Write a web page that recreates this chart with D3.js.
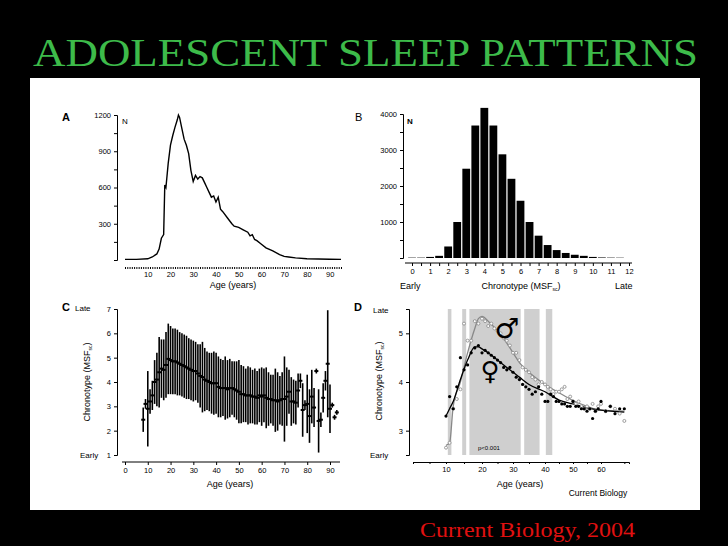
<!DOCTYPE html>
<html>
<head>
<script src="https://cdn.jsdelivr.net/npm/d3@7"></script>
<style>body{margin:0;background:#000}</style>
</head>
<body>
<svg width="728" height="546" id="mainsvg" style="display:block"></svg>
<script>
// ---- data ----
const aAge = [0, 5, 10, 12, 14, 15, 16, 17, 17.5, 18, 19, 20, 21, 22, 23, 23.5, 24, 25, 26, 27, 28, 29, 30, 31, 32, 33, 34, 35, 36, 37, 38, 39, 40, 41, 42, 43, 45, 47, 48, 50, 52, 54, 55, 56, 57, 58, 60, 62, 65, 68, 70, 72, 75, 80, 85, 90, 95];
const aN   = [5, 5, 10, 25, 50, 90, 180, 210, 620, 600, 800, 950, 1030, 1100, 1160, 1200, 1180, 1090, 1000, 950, 880, 740, 650, 700, 670, 690, 680, 640, 600, 560, 520, 530, 480, 520, 420, 400, 350, 300, 280, 270, 250, 230, 200, 210, 170, 160, 130, 100, 75, 45, 30, 25, 18, 10, 8, 6, 5];

const bMid = [0, 0.5, 1, 1.5, 2, 2.5, 3, 3.5, 4, 4.5, 5, 5.5, 6, 6.5, 7, 7.5, 8, 8.5, 9, 9.5, 10, 10.5, 11, 11.5];
const bN   = [10, 10, 30, 60, 320, 1000, 2480, 3680, 4170, 3680, 2880, 2200, 1590, 1000, 620, 360, 220, 140, 90, 60, 30, 15, 10, 8];

const cAge  = d3.range(8, 94);
const cMean = [2.45, 3.1, 2.9, 3.2, 3.45, 4.0, 4.1, 4.4, 4.55, 4.5, 4.7, 4.95, 4.9, 4.85, 4.85, 4.8, 4.75, 4.7, 4.65, 4.6, 4.55, 4.5, 4.45, 4.45, 4.35, 4.25, 4.2, 4.1, 4.05, 4.0, 3.95, 3.95, 3.95, 3.8, 3.75, 3.75, 3.75, 3.7, 3.75, 3.75, 3.7, 3.65, 3.6, 3.5, 3.5, 3.45, 3.45, 3.45, 3.4, 3.4, 3.35, 3.45, 3.4, 3.45, 3.35, 3.3, 3.3, 3.25, 3.25, 3.2, 3.25, 3.3, 3.3, 3.4, 3.6, 3.2, 3.2, 3.15, 3.65, 4.05, 2.85, 3.05, 3.1, 2.6, 3.4, 2.95, 4.45, 2.4, 2.45, 3.35, 4.05, 4.75, 2.9, 3.05, 2.55, 2.75];
const cSd   = [0.5, 0.2, 1.55, 0.5, 0.6, 0.9, 1.1, 1.45, 1.2, 1.25, 1.35, 1.45, 1.4, 1.35, 1.35, 1.35, 1.3, 1.3, 1.3, 1.3, 1.25, 1.25, 1.25, 1.2, 1.2, 1.3, 1.45, 1.3, 1.2, 1.2, 1.25, 1.3, 1.25, 1.25, 1.2, 1.15, 1.3, 1.2, 1.2, 1.1, 1.15, 1.2, 1.3, 1.2, 1.15, 1.1, 1.2, 1.15, 1.1, 1.15, 1.1, 1.1, 1.2, 1.1, 1.25, 1.1, 1.0, 1.05, 1.3, 1.2, 1.0, 1.1, 1.75, 1.2, 0.9, 1.0, 0.9, 0.9, 0.7, 0.3, 1.1, 0.2, 1.2, 1.1, 1.1, 0.8, 0.1, 1.3, 0.3, 0.6, 0.4, 2.2, 1.0, 0.1, 0.1, 0.1];

const dFitAge = [10, 11, 12, 14, 16, 18, 19, 20, 22, 25, 28, 30, 32, 35, 40, 45, 50, 55, 60, 65];
const dMaleFit   = [2.7, 2.75, 3.5, 4.0, 4.6, 5.1, 5.3, 5.35, 5.25, 5.05, 4.8, 4.6, 4.4, 4.2, 3.95, 3.78, 3.62, 3.5, 3.42, 3.4];
const dFemaleFit = [3.3, 3.45, 3.6, 4.05, 4.45, 4.72, 4.72, 4.68, 4.6, 4.45, 4.3, 4.2, 4.1, 3.95, 3.8, 3.63, 3.55, 3.47, 3.42, 3.38];
const dPtAge = d3.range(10, 66);
const dMale   = [2.65, 2.75, 3.45, 3.65, 3.85, 5.2, 4.85, 4.85, 5.25, 5.2, 5.3, 5.25, 5.15, 5.2, 5.1, 5.05, 5.0, 4.9, 4.85, 4.75, 4.6, 4.6, 4.45, 4.3, 4.25, 4.2, 4.1, 4.05, 3.95, 4.0, 3.95, 3.9, 3.85, 3.75, 3.8, 3.8, 3.85, 3.9, 3.65, 3.7, 3.6, 3.55, 3.6, 3.5, 3.45, 3.5, 3.45, 3.55, 3.4, 3.5, 3.55, 3.4, 3.5, 3.45, 3.35, 3.2];
const dFemale = [3.3, 3.7, 3.45, 3.9, 4.5, 4.25, 4.35, 4.6, 4.7, 4.75, 4.6, 4.65, 4.6, 4.55, 4.5, 4.45, 4.4, 4.3, 4.25, 4.3, 4.2, 4.1, 4.05, 3.95, 3.9, 3.85, 3.75, 3.8, 3.9, 3.75, 3.6, 3.6, 3.75, 3.7, 3.6, 3.6, 3.55, 3.55, 3.5, 3.5, 3.6, 3.5, 3.5, 3.45, 3.45, 3.4, 3.45, 3.25, 3.4, 3.45, 3.6, 3.4, 3.5, 3.35, 3.45, 3.45];
const dBands = [[10.5, 11.5], [14.5, 15.6], [16.5, 32.4], [33.5, 38.3], [40.3, 42.6]];

const svg = d3.select('#mainsvg');
const font = 'Liberation Sans, Arial, sans-serif';

svg.append('text').attr('x', 33).attr('y', 66).attr('fill', '#3dbb4a')
  .attr('font-family', 'Liberation Serif, Times New Roman, serif').attr('font-size', 40)
  .attr('textLength', 665).attr('lengthAdjust', 'spacingAndGlyphs')
  .text('ADOLESCENT SLEEP PATTERNS');
svg.append('rect').attr('x', 30).attr('y', 78).attr('width', 670).attr('height', 432).attr('fill', '#fff');
svg.append('text').attr('x', 420).attr('y', 537).attr('fill', '#e01010')
  .attr('font-family', 'Liberation Serif, Times New Roman, serif').attr('font-size', 21)
  .attr('textLength', 215).attr('lengthAdjust', 'spacingAndGlyphs')
  .text('Current Biology, 2004');

function txt(x, y, s, size, opts = {}) {
  return svg.append('text').attr('x', x).attr('y', y).attr('font-family', opts.family || font)
    .attr('font-size', size).attr('fill', opts.fill || '#000')
    .attr('text-anchor', opts.anchor || 'start')
    .attr('font-weight', opts.bold ? 'bold' : 'normal').text(s);
}
function msfLabel(sel) {
  sel.append('tspan').text('Chronotype (MSF');
  sel.append('tspan').attr('font-size', 5).attr('dy', 2).text('sc');
  sel.append('tspan').attr('dy', -2).text(')');
}
function styleAxis(g) {
  g.selectAll('text').attr('font-family', font).attr('font-size', 7.5).attr('fill', '#000');
  g.selectAll('line,path').attr('stroke', '#000');
}

// ---- Panel A ----
const ax = d3.scaleLinear().domain([0, 95]).range([125, 341]);
const ay = d3.scaleLinear().domain([0, 1200]).range([260, 115]);
svg.append('g').attr('transform', 'translate(117,0)')
  .call(d3.axisLeft(ay).tickValues([0, 150, 300, 450, 600, 750, 900, 1050, 1200]).tickSize(3)
    .tickFormat(d => d % 300 === 0 && d > 0 ? d : '')).call(styleAxis);
svg.append('g').attr('transform', 'translate(0,267)')
  .call(d3.axisBottom(ax).tickValues(d3.range(0, 96, 1)).tickSize(2).tickFormat(d => d % 10 === 0 && d > 0 ? d : ''))
  .call(styleAxis).call(g => g.select('.domain').remove());
svg.append('path').datum(aAge.map((a, i) => [a, aN[i]]))
  .attr('fill', 'none').attr('stroke', '#000').attr('stroke-width', 1.4)
  .attr('d', d3.line().x(d => ax(d[0])).y(d => ay(d[1])));
txt(62, 121, 'A', 11, { bold: true });
txt(122, 124, 'N', 8);
txt(233, 288, 'Age (years)', 9, { anchor: 'middle' });

// ---- Panel B ----
const bx = d3.scaleLinear().domain([0, 12]).range([412, 629]);
const by = d3.scaleLinear().domain([0, 4000]).range([258, 114]);
svg.append('g').attr('transform', 'translate(403,0)')
  .call(d3.axisLeft(by).tickValues(d3.range(0, 4001, 500)).tickSize(3)
    .tickFormat(d => d % 1000 === 0 && d > 0 ? d : '')).call(styleAxis);
svg.append('g').attr('transform', 'translate(0,263)')
  .call(d3.axisBottom(bx).tickValues(d3.range(0, 12.1, 0.5)).tickSize(3).tickFormat(d => d % 1 === 0 ? d : ''))
  .call(styleAxis).call(g => g.select('.domain').attr('d', 'M405,0H632'));
svg.append('g').selectAll('rect').data(bMid).join('rect')
  .attr('x', d => bx(d) - 3.9).attr('width', 7.8)
  .attr('y', (d, i) => by(bN[i])).attr('height', (d, i) => by(0) - by(bN[i]))
  .attr('fill', '#000');
txt(355, 121, 'B', 11);
txt(407, 124, 'N', 8, { bold: true });
txt(400, 289, 'Early', 9);
txt(521, 289, '', 9, { anchor: 'middle' }).call(msfLabel);
txt(615, 289, 'Late', 9);

// ---- Panel C ----
const cx = d3.scaleLinear().domain([0, 90]).range([125, 330]);
const cy = d3.scaleLinear().domain([1, 7]).range([455, 309]);
svg.append('g').attr('transform', 'translate(117,0)')
  .call(d3.axisLeft(cy).ticks(6).tickSize(3).tickFormat(d3.format('d'))).call(styleAxis);
svg.append('g').attr('transform', 'translate(0,462)')
  .call(d3.axisBottom(cx).tickValues(d3.range(0, 91, 10)).tickSize(3))
  .call(styleAxis).call(g => g.select('.domain').attr('d', 'M122,0H340'));
const cg = svg.append('g');
cg.selectAll('line.err').data(cAge).join('line').attr('class', 'err')
  .attr('x1', d => cx(d)).attr('x2', d => cx(d))
  .attr('y1', (d, i) => cy(cMean[i] - cSd[i])).attr('y2', (d, i) => cy(cMean[i] + cSd[i]))
  .attr('stroke', '#000').attr('stroke-width', 1.6);
cg.selectAll('line.mean').data(cAge).join('line').attr('class', 'mean')
  .attr('x1', d => cx(d) - 2).attr('x2', d => cx(d) + 2)
  .attr('y1', (d, i) => cy(cMean[i])).attr('y2', (d, i) => cy(cMean[i]))
  .attr('stroke', '#000').attr('stroke-width', 2);
txt(62, 311, 'C', 11, { bold: true });
txt(75, 311, 'Late', 8);
txt(80, 458, 'Early', 8);
txt(230, 487, 'Age (years)', 9, { anchor: 'middle' });
svg.append('text').attr('transform', 'translate(90,382) rotate(-90)').attr('text-anchor', 'middle')
  .attr('font-family', font).attr('font-size', 9).call(msfLabel);

// ---- Panel D ----
const dx = d3.scaleLinear().domain([0, 10, 20, 30, 40, 50, 60, 66]).range([413, 446, 482, 513, 545, 573, 601, 629]);
const dy = d3.scaleLinear().domain([2.5, 5.5]).range([455, 309]);
svg.append('g').selectAll('rect').data(dBands).join('rect')
  .attr('x', d => dx(d[0])).attr('width', d => dx(d[1]) - dx(d[0]))
  .attr('y', dy(5.5)).attr('height', dy(2.5) - dy(5.5)).attr('fill', '#cfcfcf');
svg.append('g').attr('transform', 'translate(409,0)')
  .call(d3.axisLeft(dy).tickValues([2.5, 3, 4, 5, 5.5]).tickSize(3)
    .tickFormat(d => d % 1 === 0 ? d : '')).call(styleAxis);
svg.append('g').attr('transform', 'translate(0,462)')
  .call(d3.axisBottom(dx).tickValues(d3.range(0, 66, 5)).tickSize(2).tickFormat(d => d % 10 === 0 && d > 0 ? d : ''))
  .call(styleAxis);
const dl = d3.line().curve(d3.curveMonotoneX).x(d => dx(d[0])).y(d => dy(d[1]));
svg.append('path').datum(dFitAge.map((a, i) => [a, dMaleFit[i]]))
  .attr('fill', 'none').attr('stroke', '#888').attr('stroke-width', 1.3).attr('d', dl);
svg.append('path').datum(dFitAge.map((a, i) => [a, dFemaleFit[i]]))
  .attr('fill', 'none').attr('stroke', '#000').attr('stroke-width', 1.3).attr('d', dl);
svg.append('g').selectAll('circle').data(dPtAge).join('circle')
  .attr('cx', d => dx(d)).attr('cy', (d, i) => dy(dMale[i])).attr('r', 1.5)
  .attr('fill', '#fff').attr('stroke', '#888').attr('stroke-width', 0.8);
svg.append('g').selectAll('circle').data(dPtAge).join('circle')
  .attr('cx', d => dx(d)).attr('cy', (d, i) => dy(dFemale[i])).attr('r', 1.6).attr('fill', '#000');
txt(354, 311, 'D', 11, { bold: true });
txt(373, 313, 'Late', 8);
txt(370, 458, 'Early', 8);
txt(507, 338, '♂', 28, { anchor: 'middle', family: 'DejaVu Sans' });
txt(490, 380, '♀', 26, { anchor: 'middle', family: 'DejaVu Sans' });
txt(478, 450, 'p<0.001', 6);
txt(520, 487, 'Age (years)', 9, { anchor: 'middle' });
txt(598, 496, 'Current Biology', 8.5, { anchor: 'middle' });
svg.append('text').attr('transform', 'translate(382,381) rotate(-90)').attr('text-anchor', 'middle')
  .attr('font-family', font).attr('font-size', 9).call(msfLabel);
</script>
</body>
</html>
